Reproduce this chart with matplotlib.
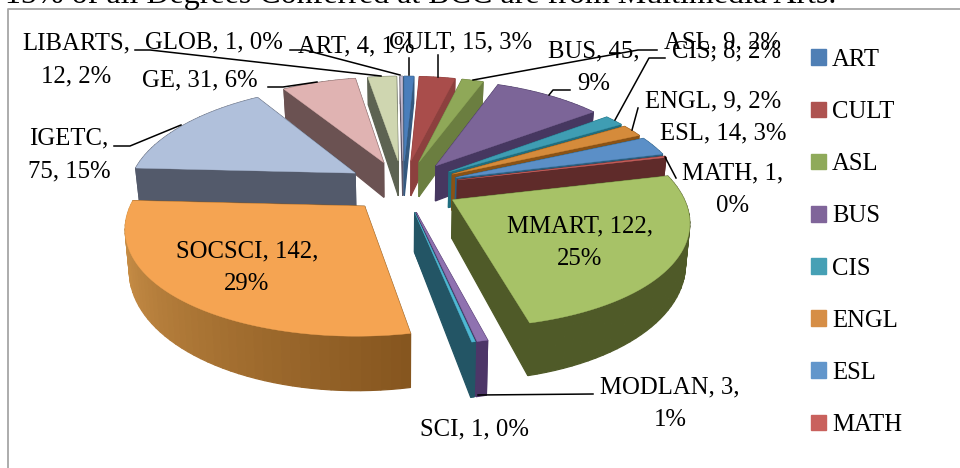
import numpy as np
import matplotlib
matplotlib.use('Agg')
import matplotlib.pyplot as plt
from matplotlib.patches import Patch

categorias = ['ART', 'CULT', 'ASL', 'BUS', 'CIS', 'ENGL', 'ESL', 'MATH', 'MMART',
              'MODLAN', 'SCI', 'SOCSCI', 'IGETC', 'GE', 'LIBARTS', 'GLOB']
valores = [4, 15, 9, 45, 8, 9, 14, 1, 122, 3, 1, 142, 75, 31, 12, 1]
legenda = categorias[:8]

cor_topo = ['#4A7EBB', '#A94D4B', '#8FA858', '#7C6598', '#3F9DB3', '#D58B3B', '#5B8FC7', '#C75F5C',
            '#A7C267', '#8F72B0', '#4FB8D4', '#F5A452', '#B0C0DB', '#E0B3B2', '#CFD6B0', '#C4BBD2']
cor_lado = ['#34597F', '#8C403E', '#6B7E40', '#463760', '#1F6E80', '#8A5215', '#2B5F80', '#5F2B2A',
            '#4F5A28', '#4D3668', '#235565', '#86561F', '#535A6B', '#6B5252', '#5D6352', '#5D5668']
cor_leg = ['#4F7FB5', '#AE5350', '#8FAA5A', '#80659A', '#46A0B5', '#D68E46', '#6296CB', '#C9615D']

# projecao do disco (perspectiva simples)
cx, cy = 403, 186
A, B = 252, 115.6
p_x, p_y = 0.19, 0.165
raio = 0.9
expl = 0.225
prof = 37


def proj(u, v, z=0):
    x = cx + A * u / (1 + p_x * v) * (1 - 0.015 * z)
    y = cy - B * v / (1 + p_y * v) + z * prof / (1 + 0.3 * v)
    return x, y


plt.rcParams['font.family'] = ['Liberation Serif', 'DejaVu Serif']
fig = plt.figure(figsize=(9.6, 4.68), dpi=100)
ax = fig.add_axes([0, 0, 1, 1])
ax.set_xlim(0, 960)
ax.set_ylim(468, 0)
ax.axis('off')

ax.plot([8, 8, 960], [468, 9, 9], color='#A6A6A6', lw=1.3)
ax.text(5, 2.5, '15% of all Degrees Conferred at BCC are from Multimedia Arts.', fontsize=23,
        ha='left', va='baseline', color='black', clip_on=False)

total = sum(valores)
fim = np.cumsum(valores) / total * 2 * np.pi
ini = fim - np.array(valores) / total * 2 * np.pi
meio = (ini + fim) / 2


def mistura(c1, c2, t):
    a = np.array(matplotlib.colors.to_rgb(c1))
    b = np.array(matplotlib.colors.to_rgb(c2))
    return tuple(a + (b - a) * t)


# de tras para frente
for i in np.argsort(-np.cos(meio)):
    ou, ov = expl * np.sin(meio[i]), expl * np.cos(meio[i])
    n = max(2, int(np.degrees(fim[i] - ini[i]) / 2) + 1)
    th = np.linspace(ini[i], fim[i], n)
    us = ou + raio * np.sin(th)
    vs = ov + raio * np.cos(th)

    paredes = []
    # paredes radiais
    for t in (ini[i], fim[i]):
        ue, ve = ou + raio * np.sin(t), ov + raio * np.cos(t)
        x0, y0 = proj(ou, ov)
        x1, y1 = proj(ue, ve)
        x2, y2 = proj(ue, ve, 1)
        x3, y3 = proj(ou, ov, 1)
        paredes.append(((y0 + y1) / 2, [x0, x1, x2, x3], [y0, y1, y2, y3], cor_lado[i]))
    # borda
    for k in range(n - 1):
        x0, y0 = proj(us[k], vs[k])
        x1, y1 = proj(us[k + 1], vs[k + 1])
        x2, y2 = proj(us[k + 1], vs[k + 1], 1)
        x3, y3 = proj(us[k], vs[k], 1)
        c = cor_lado[i]
        if categorias[i] == 'SOCSCI':
            c = mistura('#86561F', '#D69A4F', k / (n - 2))
        paredes.append(((y0 + y1) / 2, [x0, x1, x2, x3], [y0, y1, y2, y3], c))
    for _, xs, ys, c in sorted(paredes, key=lambda q: q[0]):
        ax.fill(xs, ys, color=c, lw=0.9, zorder=2)

    xt, yt = proj(np.r_[ou, us], np.r_[ov, vs])
    ax.fill(xt, yt, color=cor_topo[i], lw=0.3, zorder=2)

# linhas de chamada
chamadas = [([135, 150, 381], [50, 50, 76]), ([290, 305, 400], [50, 50, 75]),
            ([409, 409], [58, 75]), ([438, 438], [55, 77]),
            ([268, 283, 317], [87, 87, 82]), ([114, 130, 181], [146, 146, 125]),
            ([473, 638, 657], [80, 50, 50]), ([615, 649, 665], [120, 58, 58]),
            ([632, 638], [130, 108]), ([549, 553, 570], [95, 90, 90]),
            ([665, 676], [157, 178]), ([478, 593], [395, 394])]
for xs, ys in chamadas:
    ax.plot(xs, ys, color='black', lw=1.1, zorder=3)

rotulos = [('LIBARTS,\n12, 2%', 76, 60), ('GLOB, 1, 0%', 214, 42), ('ART, 4, 1%', 356, 46),
           ('CULT, 15, 3%', 461, 42), ('GE, 31, 6%', 200, 80), ('IGETC,\n75, 15%', 69, 155),
           ('BUS, 45,\n9%', 594, 68), ('ASL, 9, 2%', 722, 42), ('CIS, 8, 2%', 727, 51),
           ('ENGL, 9, 2%', 713, 101), ('ESL, 14, 3%', 723, 133), ('MATH, 1,\n0%', 733, 190),
           ('MMART, 122,\n25%', 580, 243), ('SOCSCI, 142,\n29%', 247, 268),
           ('MODLAN, 3,\n1%', 670, 404), ('SCI, 1, 0%', 475, 429)]
for txt, x, y in rotulos:
    ax.text(x, y, txt, fontsize=17.8, ha='center', va='center', color='black',
            linespacing=1.62, zorder=4)

alcas = [Patch(color=c, label=l) for c, l in zip(cor_leg, legenda)]
ax.legend(handles=alcas, loc='upper left', bbox_to_anchor=(811 / 960, 1 - 49 / 468), frameon=False,
          fontsize=17.8, handlelength=0.6, handleheight=0.6, handletextpad=0.25, labelspacing=1.22,
          borderpad=0, borderaxespad=0)

fig.savefig('out.png', dpi=100)
